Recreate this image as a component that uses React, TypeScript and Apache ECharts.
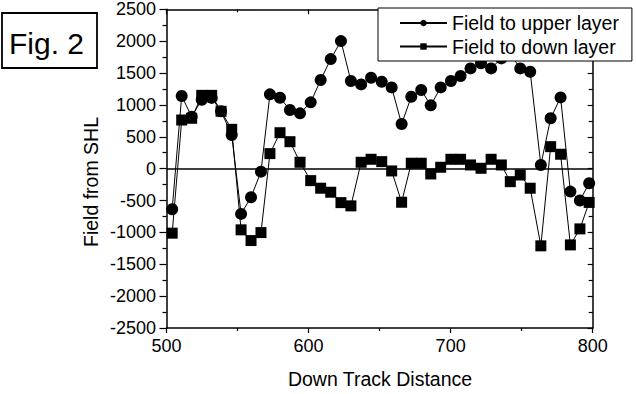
import React, { useEffect, useRef } from 'react';
import * as echarts from 'echarts';

const FONT = '"Liberation Sans", Arial, Helvetica, sans-serif';

// Down track distance of each sample
const xValues = [
  504, 510.7, 517.7, 524.8, 531.8, 538.4, 545.9, 552.5, 559.5, 566.5,
  572.8, 579.9, 586.9, 594, 601.5, 608.5, 615.6, 622.8, 629.8, 637,
  644, 651.5, 658.5, 665.5, 672.3, 679.3, 686, 693, 700.2, 707,
  714, 721.4, 728.5, 735.7, 742, 749, 756, 763.5, 770.4, 777.4,
  784.3, 791, 797.5,
];

// Field to upper layer (circles)
const upperLayer = [
  -636, 1140, 815, 1080, 1110, 900, 528, -710, -448, -47,
  1166, 1113, 920, 868, 1040, 1390, 1719, 2001, 1374, 1322,
  1426, 1363, 1275, 700, 1128, 1233, 993, 1275, 1374, 1453,
  1573, 1652, 1573, 1730, 1800, 1573, 1520, 58, 790, 1118,
  -360, -500, -229,
];

// Field to down layer (squares)
const downLayer = [
  -1012, 763, 790, 1150, 1150, 900, 617, -960, -1128, -1003,
  236, 564, 423, 100, -188, -307, -370, -533, -584, 100,
  147, 110, -36, -527, 85, 85, -83, 22, 147, 147,
  58, 6, 147, 58, -204, -99, -307, -1211, 345, 226,
  -1196, -945, -530,
];

const seriesNames = ['Field to upper layer', 'Field to down layer'];
const xTitle = 'Down Track Distance';
const yTitle = 'Field from SHL';
const figLabel = 'Fig. 2';

export default function App() {
  const ref = useRef<HTMLDivElement>(null);

  useEffect(() => {
    const chart = echarts.init(ref.current!, null, { renderer: 'svg' });
    const axisLineStyle = { color: '#000', width: 1.5 };
    const tickStyle = { color: '#000', width: 1.2 };
    const fmt = (v: number) => String(v);

    chart.setOption({
      animation: false,
      backgroundColor: '#fff',
      textStyle: { fontFamily: FONT },
      grid: { left: 166.5, top: 9.3, width: 426.2, height: 318.7, containLabel: false },
      legend: {
        orient: 'vertical',
        left: 378,
        top: 8,
        padding: [5, 13, 4.5, 21],
        itemGap: 3.5,
        itemWidth: 47,
        itemHeight: 8,
        backgroundColor: '#fff',
        borderColor: '#000',
        borderWidth: 1,
        borderRadius: 0,
        textStyle: { fontFamily: FONT, fontSize: 19.5, color: '#000', lineHeight: 20 },
        data: seriesNames,
        z: 10,
      },
      xAxis: [
        {
          type: 'value', position: 'bottom', min: 500, max: 800, interval: 100,
          axisLine: { show: true, onZero: false, lineStyle: axisLineStyle },
          axisTick: { show: true, inside: false, length: 5, lineStyle: tickStyle },
          minorTick: { show: true, splitNumber: 2, length: 3, lineStyle: tickStyle },
          axisLabel: { show: true, margin: 9, fontSize: 18, fontFamily: FONT, color: '#000', formatter: fmt },
          splitLine: { show: false },
        },
        {
          type: 'value', position: 'top', min: 500, max: 800, interval: 100,
          axisLine: { show: true, onZero: false, lineStyle: axisLineStyle },
          axisTick: { show: true, inside: true, length: 5, lineStyle: tickStyle },
          minorTick: { show: true, splitNumber: 2, length: 3, lineStyle: tickStyle },
          axisLabel: { show: false },
          splitLine: { show: false },
        },
      ],
      yAxis: [
        {
          type: 'value', position: 'left', min: -2500, max: 2500, interval: 500,
          axisLine: { show: true, onZero: false, lineStyle: axisLineStyle },
          axisTick: { show: true, inside: false, length: 7, lineStyle: tickStyle },
          minorTick: { show: true, splitNumber: 2, length: 4, lineStyle: tickStyle },
          axisLabel: { show: true, margin: 10.5, fontSize: 18, fontFamily: FONT, color: '#000', formatter: fmt },
          splitLine: { show: false },
        },
        {
          type: 'value', position: 'right', min: -2500, max: 2500, interval: 500,
          axisLine: { show: true, onZero: false, lineStyle: axisLineStyle },
          axisTick: { show: true, inside: true, length: 5, lineStyle: tickStyle },
          minorTick: { show: true, splitNumber: 2, length: 4, lineStyle: tickStyle },
          axisLabel: { show: false },
          splitLine: { show: false },
        },
      ],
      series: [
        {
          name: seriesNames[1],
          type: 'line',
          xAxisIndex: 0,
          yAxisIndex: 0,
          data: xValues.map((x, i) => [x, downLayer[i]]),
          symbol: 'rect',
          symbolSize: 11,
          showSymbol: true,
          itemStyle: { color: '#000' },
          lineStyle: { color: '#000', width: 1 },
          markLine: {
            silent: true,
            symbol: ['none', 'none'],
            label: { show: false },
            lineStyle: { color: '#000', type: 'solid', width: 1.5 },
            data: [{ yAxis: 0 }],
          },
        },
        {
          name: seriesNames[0],
          type: 'line',
          xAxisIndex: 0,
          yAxisIndex: 0,
          data: xValues.map((x, i) => [x, upperLayer[i]]),
          symbol: 'circle',
          symbolSize: 12,
          showSymbol: true,
          itemStyle: { color: '#000' },
          lineStyle: { color: '#000', width: 1 },
        },
      ],
      graphic: [
        {
          type: 'rect',
          shape: { x: 2, y: 13, width: 95, height: 55 },
          style: { fill: '#fff', stroke: '#000', lineWidth: 1.8 },
        },
        {
          type: 'text',
          x: 9, y: 43,
          style: { text: figLabel, fontSize: 30, fontFamily: FONT, fill: '#000', textAlign: 'left', textVerticalAlign: 'middle' },
        },
        {
          type: 'text',
          x: 91, y: 182,
          rotation: Math.PI / 2,
          style: { text: yTitle, fontSize: 19.5, fontFamily: FONT, fill: '#000', textAlign: 'center', textVerticalAlign: 'middle' },
        },
        {
          type: 'text',
          x: 380, y: 379,
          style: { text: xTitle, fontSize: 19.5, fontFamily: FONT, fill: '#000', textAlign: 'center', textVerticalAlign: 'middle' },
        },
      ],
    });
    return () => chart.dispose();
  }, []);

  return (
    <div
      ref={ref}
      style={{ position: 'fixed', left: 0, top: 0, width: 636, height: 394, background: '#fff' }}
    />
  );
}
